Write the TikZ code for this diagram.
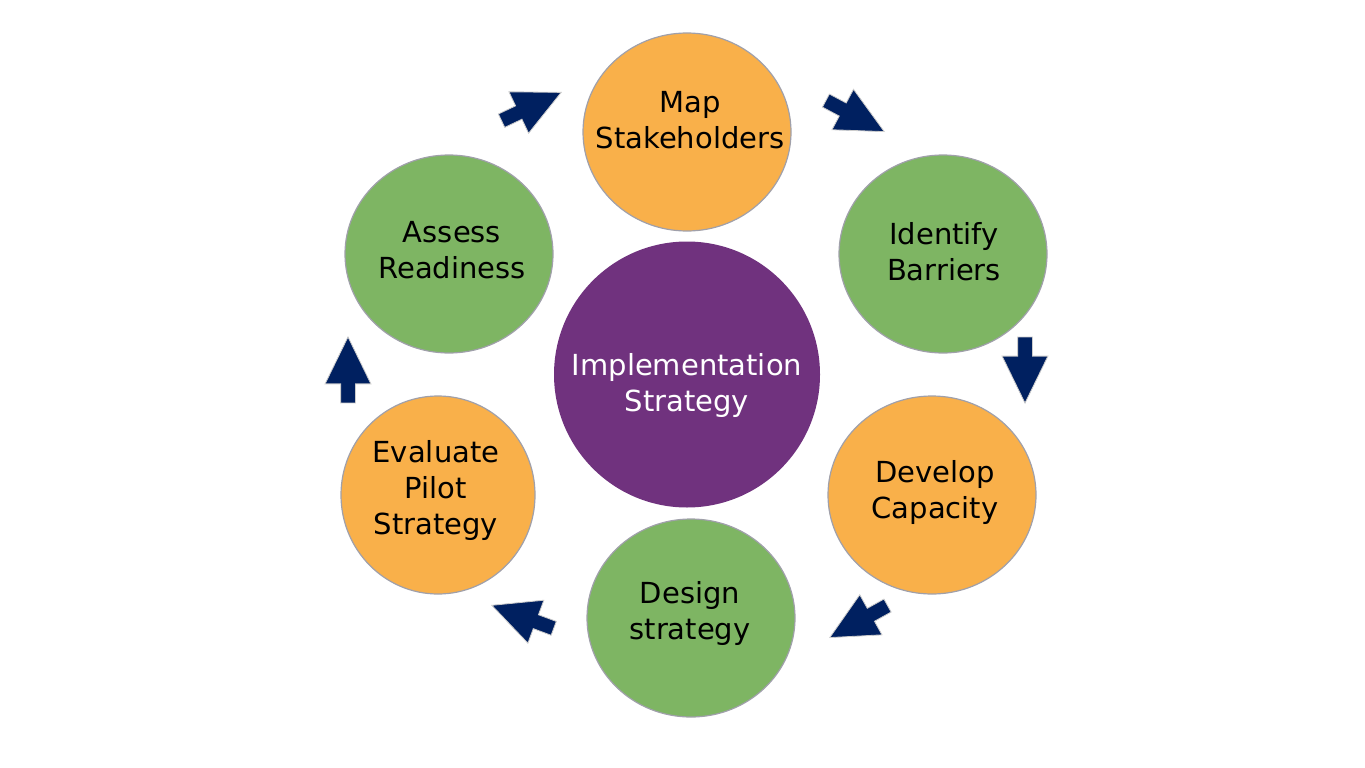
\documentclass[tikz,border=0pt]{standalone}
\usepackage{fontspec}
\setmainfont{DejaVu Sans}
\usetikzlibrary{shapes.geometric,shapes.arrows}
\definecolor{orng}{RGB}{249,176,74}
\definecolor{grn}{RGB}{126,181,99}
\definecolor{purp}{RGB}{112,50,126}
\definecolor{navy}{RGB}{0,32,96}
\definecolor{rim}{RGB}{160,160,170}
\begin{document}
\begin{tikzpicture}[x=1pt,y=-1pt,
 bubble/.style={ellipse, draw=rim, line width=1.2pt, minimum width=208pt, minimum height=198pt, inner sep=0pt},
 obub/.style={bubble, fill=orng},
 gbub/.style={bubble, fill=grn},
 lbl/.style={font=\fontsize{29}{36}\selectfont, align=center, text=black, inner sep=0pt},
 blockarrow/.style={single arrow, fill=navy, draw=gray!40, line width=0.8pt, minimum height=66pt, minimum width=45pt, single arrow head extend=15.5pt, single arrow tip angle=52, inner xsep=0pt, inner ysep=7pt, anchor=tip}]
\useasboundingbox (0,0) rectangle (1365,768);
\fill[white] (0,0) rectangle (1365,768);
% bubbles
\node[obub] (map) at (687,132) {};
\node[gbub] (idb) at (943,254) {};
\node[obub] (dev) at (932,495) {};
\node[gbub] (des) at (691,618) {};
\node[obub, minimum width=194pt] (eva) at (438,495) {};
\node[gbub] (ass) at (449,254) {};
\node[circle, fill=purp, minimum size=266pt, inner sep=0pt] (imp) at (687,374.5) {};
% labels
\node[lbl] (tmap) at (690,120) {Map\\Stakeholders};
\node[lbl] (tidb) at (944,252) {Identify\\Barriers};
\node[lbl] (tdev) at (935,492) {Develop\\Capacity};
\node[lbl] (tdes) at (690,613) {Design\\strategy};
\node[lbl] (teva) at (436,490) {Evaluate\\Pilot\\Strategy};
\node[lbl] (tass) at (452,250) {Assess\\Readiness};
\node[lbl, text=white] (timp) at (687,385) {Implementation\\Strategy};
% block arrows (placed by their tips)
\node[blockarrow, rotate=25.4] (a1) at (562,92) {};
\node[blockarrow, rotate=-28] (a2) at (885,132) {};
\node[blockarrow, rotate=-90] (a3) at (1025,404) {};
\node[blockarrow, rotate=209] (a4) at (829,638) {};
\node[blockarrow, rotate=159.6] (a5) at (491,605) {};
\node[blockarrow, rotate=90] (a6) at (348,336) {};
\end{tikzpicture}
\end{document}
